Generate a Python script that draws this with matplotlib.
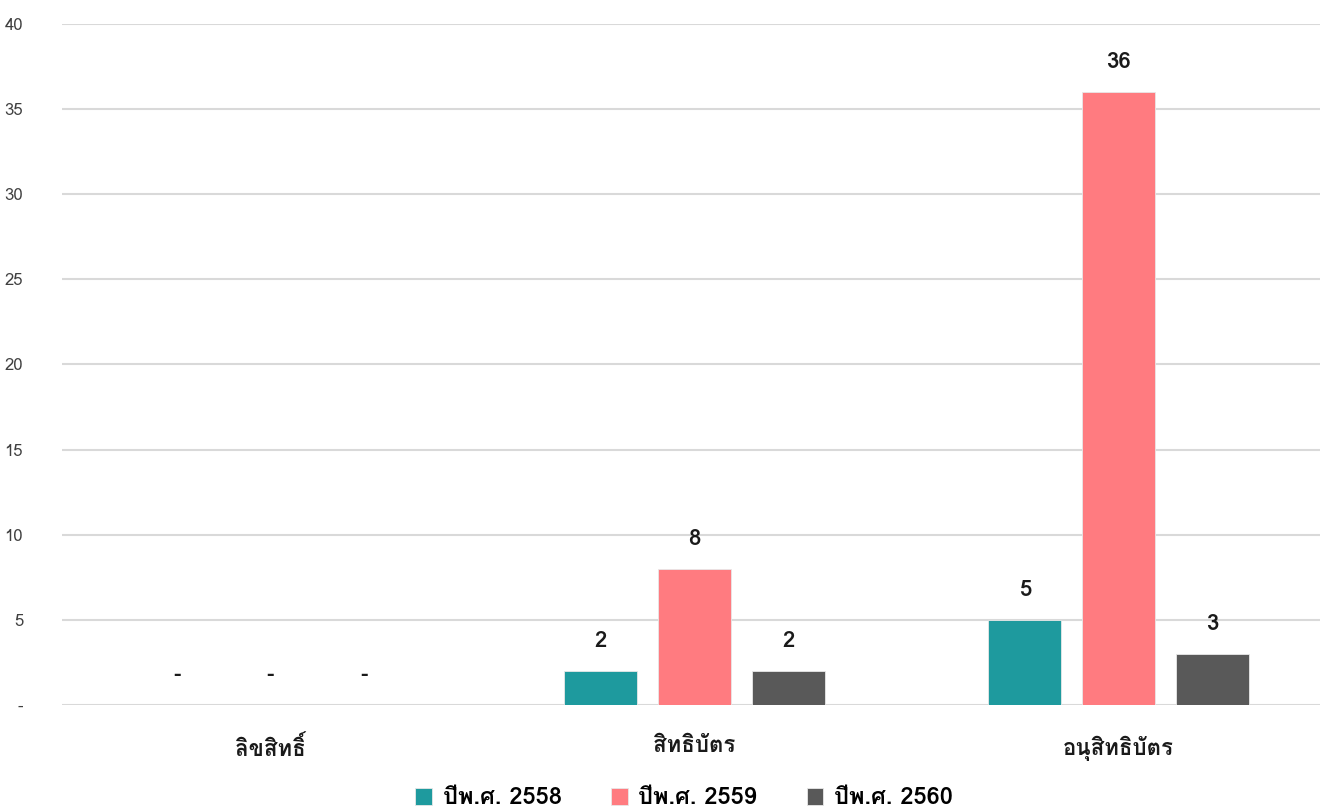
import numpy as np
import matplotlib
matplotlib.use("Agg")
import matplotlib.pyplot as plt
from matplotlib import font_manager
from matplotlib.ft2font import FT2Font

categories = ["ลิขสิทธิ์", "สิทธิบัตร", "อนุสิทธิบัตร"]
series = ["ปีพ.ศ. 2558", "ปีพ.ศ. 2559", "ปีพ.ศ. 2560"]
values_2558 = [0, 2, 5]
values_2559 = [0, 8, 36]
values_2560 = [0, 2, 3]
yticks = [0, 5, 10, 15, 20, 25, 30, 35, 40]
ytick_labels = ["-", "5", "10", "15", "20", "25", "30", "35", "40"]

colors = ["#1E9A9E", "#FF7B80", "#595959"]


def find_thai_font():
    # look for an installed font that has Thai glyphs
    found = []
    for f in font_manager.fontManager.ttflist:
        try:
            cmap = FT2Font(f.fname).get_charmap()
        except Exception:
            continue
        if 0x0E2A in cmap and 0x0E34 in cmap:
            found.append(f.name)
    return found


thai = find_thai_font()
families = ([thai[0]] if thai else []) + ["DejaVu Sans"]
plt.rcParams["font.family"] = families

fig = plt.figure(figsize=(13.2, 8.1), dpi=100)
ax = fig.add_axes([62 / 1320, 1 - 705 / 810, 1 - 62 / 1320, (705 - 24) / 810])

x = np.arange(len(categories))
offsets = [-0.22, 0.0, 0.222]
width = 0.172
all_vals = [values_2558, values_2559, values_2560]

for vals, off, col, name in zip(all_vals, offsets, colors, series):
    bars = ax.bar(x + off, vals, width, color=col, label=name, zorder=3,
                  edgecolor="#E8E8E8", linewidth=0.6)
    for xi, v in zip(x + off, vals):
        txt = "-" if v == 0 else str(v)
        ax.text(xi, v + 1.75, txt, ha="center", va="center",
                fontsize=16, fontweight="bold", color="#1a1a1a")

ax.set_xlim(-0.4906, 2.476)
ax.set_ylim(0, 40)
ax.set_yticks(yticks)
ax.set_yticklabels(ytick_labels, fontsize=12, color="#404040")
ax.set_xticks(x)
ax.set_xticklabels(categories, fontsize=16, fontweight="bold", color="#1a1a1a")
ax.tick_params(axis="y", length=0, pad=28)
ax.tick_params(axis="x", length=0, pad=22)
for lab in ax.get_yticklabels():
    lab.set_horizontalalignment("right")
ax.grid(axis="y", color="#D9D9D9", linewidth=1.5, zorder=0)
for s in ax.spines.values():
    s.set_visible(False)

fig.legend(loc="center", bbox_to_anchor=(684 / 1320, 1 - 798 / 810), ncol=3,
           frameon=False, handlelength=0.7, handleheight=0.7,
           handletextpad=0.45, columnspacing=2.1,
           prop={"size": 17, "weight": "bold"})

fig.savefig("out.png", dpi=100)
